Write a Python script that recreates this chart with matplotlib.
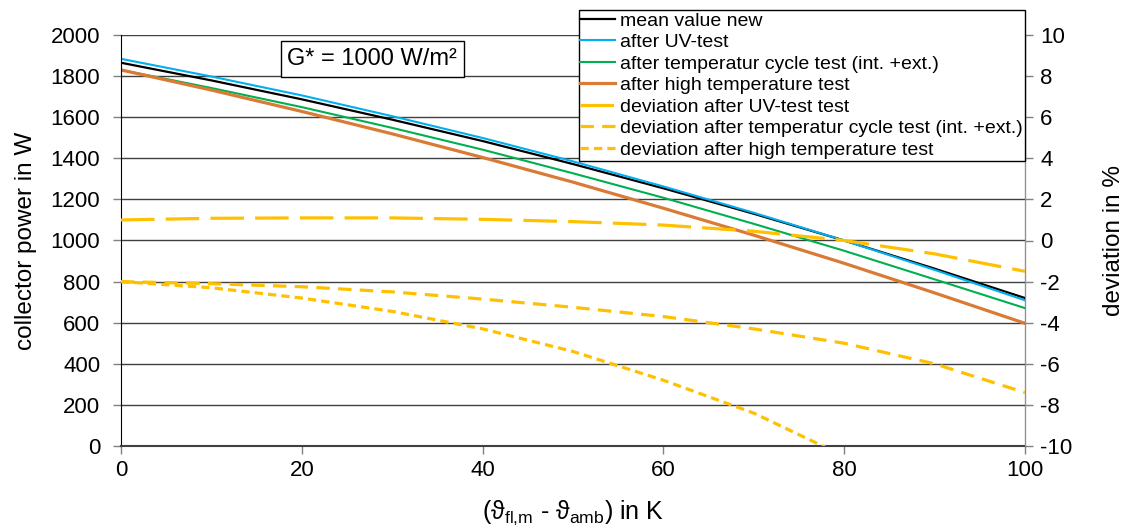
import matplotlib
matplotlib.use("Agg")
import matplotlib.pyplot as plt

plt.rcParams['font.family'] = ['Liberation Sans', 'DejaVu Sans']
plt.rcParams['mathtext.fontset'] = 'custom'
plt.rcParams['mathtext.rm'] = 'Liberation Sans'
plt.rcParams['mathtext.it'] = 'Liberation Sans:italic'
plt.rcParams['axes.unicode_minus'] = False

x = [0, 10, 20, 30, 40, 50, 60, 70, 80, 90, 100]
mean_new = [1865, 1779, 1687, 1588, 1484, 1372, 1254, 1130, 1000, 863, 720]
after_uv = [1884, 1798, 1706, 1605, 1499, 1385, 1263, 1135, 1000, 857, 709]
after_cycle = [1830, 1742, 1649, 1548, 1442, 1327, 1208, 1081, 950, 811, 671]
after_high = [1830, 1732, 1628, 1519, 1404, 1284, 1157, 1026, 889, 745, 597]

dev_uv = [1.0, 1.08, 1.1, 1.1, 1.03, 0.92, 0.75, 0.45, 0.0, -0.65, -1.5]
dev_cycle = [-2.0, -2.1, -2.25, -2.5, -2.85, -3.25, -3.7, -4.3, -5.0, -6.0, -7.4]
x_high = [0, 10, 20, 30, 40, 50, 60, 70, 80]
dev_high = [-2.0, -2.3, -2.8, -3.45, -4.3, -5.4, -6.8, -8.4, -10.5]

labels = ["mean value new", "after UV-test",
          "after temperatur cycle test (int. +ext.)",
          "after high temperature test",
          "deviation after UV-test test",
          "deviation after temperatur cycle test (int. +ext.)",
          "deviation after high temperature test"]

fig = plt.figure(figsize=(11.25, 5.27), dpi=100)
ax = fig.add_axes([121/1125, 1-446/527, (1025-121)/1125, (446-35)/527])
ax2 = ax.twinx()

gold = '#FFC000'
h1, = ax.plot(x, mean_new, color='black', lw=1.6, label=labels[0])
h2, = ax.plot(x, after_uv, color='#00B0F0', lw=1.5, label=labels[1])
h3, = ax.plot(x, after_cycle, color='#00B050', lw=1.5, label=labels[2])
h4, = ax.plot(x, after_high, color='#D97B35', lw=2.3, label=labels[3])

h5, = ax2.plot(x, dev_uv, color=gold, lw=2.3, dashes=(10.5, 3.5), label=labels[4])
h6, = ax2.plot(x, dev_cycle, color=gold, lw=2.3, dashes=(4.2, 2.6), label=labels[5])
h7, = ax2.plot(x_high, dev_high, color=gold, lw=2.3, dashes=(2.6, 1.6), label=labels[6])

ax.set_xlim(0, 100)
ax.set_ylim(0, 2000)
ax2.set_ylim(-10, 10)
ax.set_xticks(range(0, 101, 20))
ax.set_yticks(range(0, 2001, 200))
ax2.set_yticks(range(-10, 11, 2))
ax.yaxis.grid(True, color='#404040', lw=1.0)
ax.set_axisbelow(True)

for a in (ax, ax2):
    a.tick_params(labelsize=16, length=6, width=1, color='#808080', direction='out', pad=5)
    a.spines['top'].set_visible(False)
ax.tick_params(axis='y', pad=9)
ax.tick_params(axis='x', pad=4)
ax.spines['left'].set_color('black')
ax.spines['bottom'].set_color('#404040')
ax.spines['bottom'].set_linewidth(1.5)
ax2.spines['right'].set_color('#909090')
ax2.spines['left'].set_visible(False)
ax2.spines['bottom'].set_visible(False)

ax.set_ylabel("collector power in W", fontsize=17.5, labelpad=10)
ax2.set_ylabel("deviation in %", fontsize=17.5, labelpad=22)
ax.set_xlabel("(ϑ$_{\\rm fl{,}m}$ - ϑ$_{\\rm amb}$) in K", fontsize=18, labelpad=13)

ax.text(27.8, 1883, "G* = 1000 W/m²", fontsize=17, ha='center', va='center',
        bbox=dict(boxstyle='square,pad=0.28', fc='white', ec='black', lw=1), zorder=5)

leg = fig.legend(handles=[h1, h2, h3, h4, h5, h6, h7], loc='upper right',
                 bbox_to_anchor=(1025/1125, 1-10/527), fontsize=14,
                 frameon=True, fancybox=False, edgecolor='black', framealpha=1,
                 borderpad=0.1, labelspacing=0.2, handlelength=1.8, handletextpad=0.25,
                 borderaxespad=0)
leg.get_frame().set_linewidth(1)

fig.savefig("out.png", dpi=100)
